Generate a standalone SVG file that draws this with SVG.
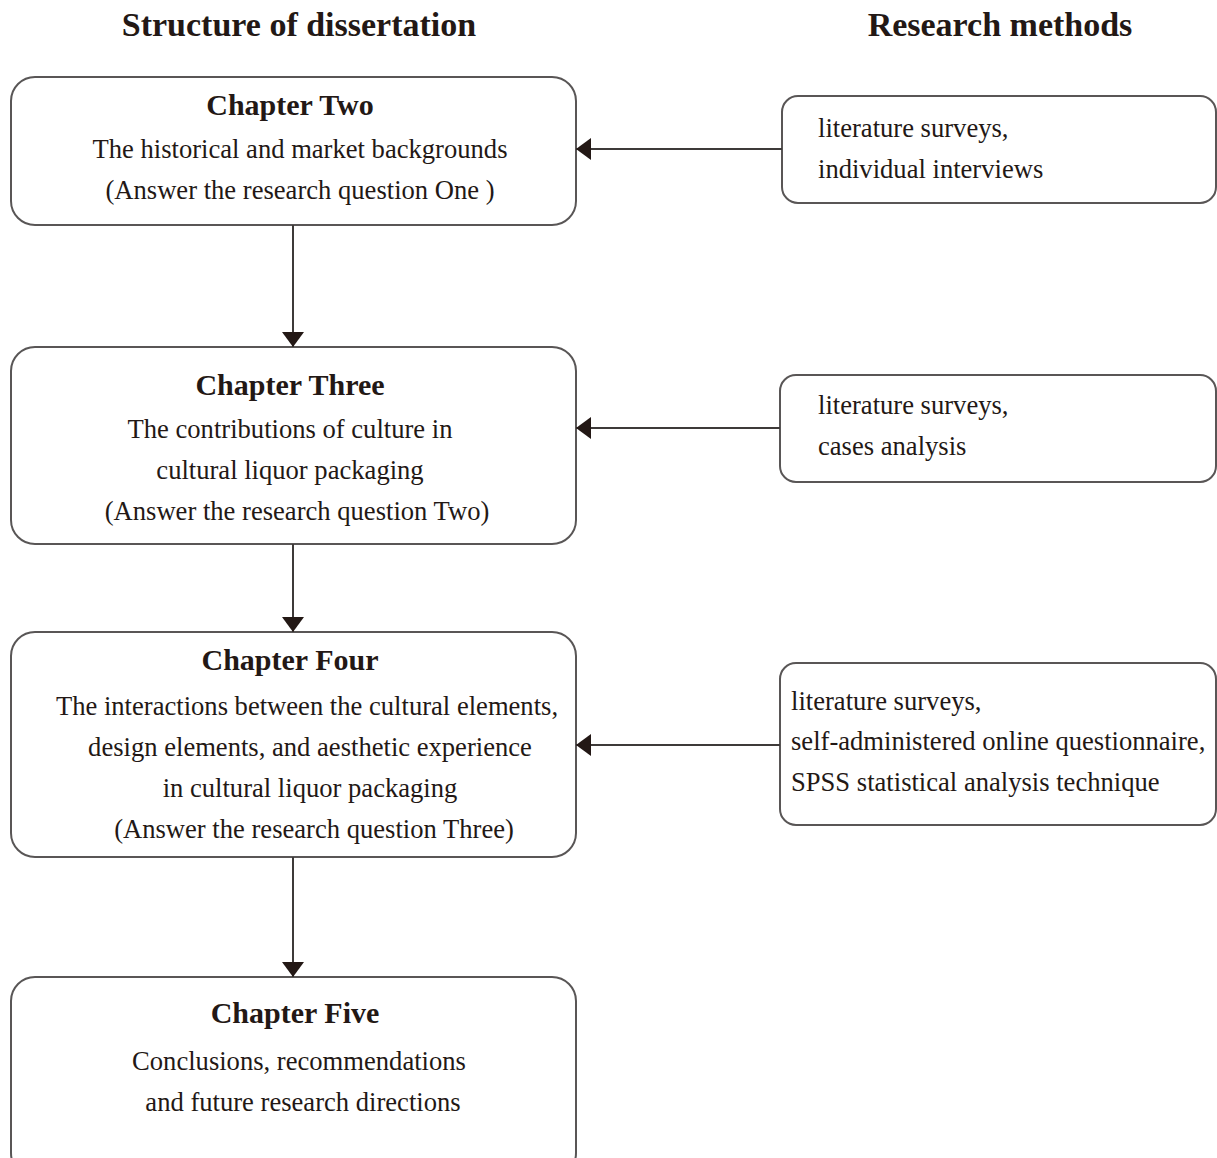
<svg xmlns="http://www.w3.org/2000/svg" width="1217" height="1158" viewBox="0 0 1217 1158">
<defs>
<style>
.box{fill:#fff;stroke:#595656;stroke-width:2}
.t{font-family:"Liberation Serif","Times New Roman",serif;font-size:26.6px;fill:#231815}
.c{text-anchor:middle}
.b{font-weight:bold;font-size:30px}
.h{font-family:"Liberation Serif","Times New Roman",serif;font-weight:bold;font-size:34px;fill:#231815;text-anchor:middle}
.ln{stroke:#3e3a39;stroke-width:2;fill:none}
</style>
<marker id="a" viewBox="0 0 15 24" refX="15" refY="12" markerWidth="15" markerHeight="24" orient="auto" markerUnits="userSpaceOnUse">
<path d="M0,1 L15,12 L0,23 Z" fill="#231815"/>
</marker>
</defs>
<rect width="1217" height="1158" fill="#fff"/>
<text class="h" x="299" y="36">Structure of dissertation</text>
<text class="h" x="1000" y="36">Research methods</text>

<g id="ch2">
<rect class="box" x="11" y="77" width="565" height="148" rx="24"/>
<text class="t c b" x="290" y="115">Chapter Two</text>
<text class="t c" x="300" y="158">The historical and market backgrounds</text>
<text class="t c" x="300" y="199">(Answer the research question One )</text>
</g>
<g id="m1">
<rect class="box" x="782" y="96" width="434" height="107" rx="16"/>
<text class="t" x="818" y="137">literature surveys,</text>
<text class="t" x="818" y="178">individual interviews</text>
</g>
<g id="ch3">
<rect class="box" x="11" y="347" width="565" height="197" rx="24"/>
<text class="t c b" x="290" y="395">Chapter Three</text>
<text class="t c" x="290" y="438">The contributions of culture in</text>
<text class="t c" x="290" y="479">cultural liquor packaging</text>
<text class="t c" x="297" y="520">(Answer the research question Two)</text>
</g>
<g id="m2">
<rect class="box" x="780" y="375" width="436" height="107" rx="16"/>
<text class="t" x="818" y="414">literature surveys,</text>
<text class="t" x="818" y="455">cases analysis</text>
</g>
<g id="ch4">
<rect class="box" x="11" y="632" width="565" height="225" rx="24"/>
<text class="t c b" x="290" y="670">Chapter Four</text>
<text class="t c" x="307" y="715">The interactions between the cultural elements,</text>
<text class="t c" x="310" y="756">design elements, and aesthetic experience</text>
<text class="t c" x="310" y="797">in cultural liquor packaging</text>
<text class="t c" x="314" y="838">(Answer the research question Three)</text>
</g>
<g id="m3">
<rect class="box" x="780" y="663" width="436" height="162" rx="16"/>
<text class="t" x="791" y="710">literature surveys,</text>
<text class="t" x="791" y="750">self-administered online questionnaire,</text>
<text class="t" x="791" y="791">SPSS statistical analysis technique</text>
</g>
<g id="ch5">
<rect class="box" x="11" y="977" width="565" height="200" rx="24"/>
<text class="t c b" x="295" y="1023">Chapter Five</text>
<text class="t c" x="299" y="1070">Conclusions, recommendations</text>
<text class="t c" x="303" y="1111">and future research directions</text>
</g>
<g id="connectors">
<line class="ln" x1="782" y1="149" x2="576" y2="149" marker-end="url(#a)"/>
<line class="ln" x1="780" y1="428" x2="576" y2="428" marker-end="url(#a)"/>
<line class="ln" x1="780" y1="745" x2="576" y2="745" marker-end="url(#a)"/>
<line class="ln" x1="293" y1="225" x2="293" y2="347" marker-end="url(#a)"/>
<line class="ln" x1="293" y1="544" x2="293" y2="632" marker-end="url(#a)"/>
<line class="ln" x1="293" y1="857" x2="293" y2="977" marker-end="url(#a)"/>
</g>
</svg>
